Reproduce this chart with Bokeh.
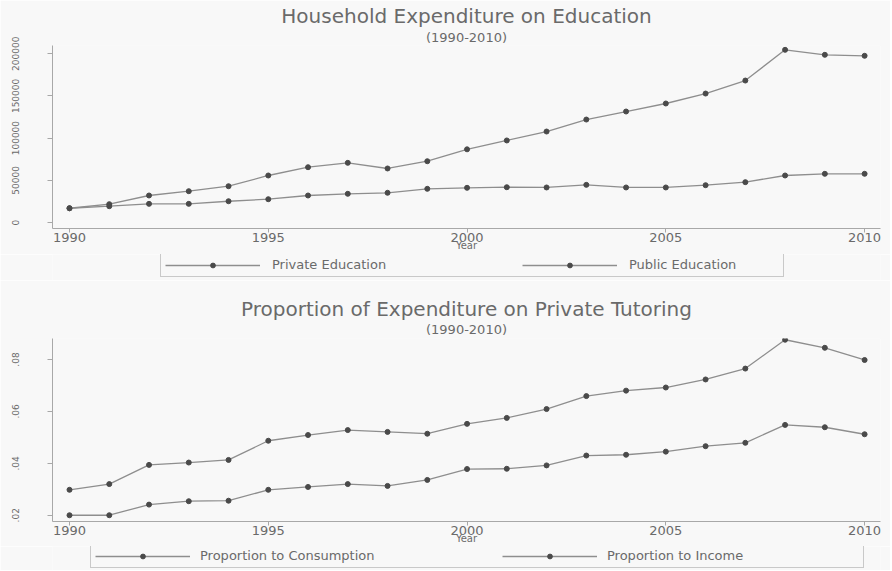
from bokeh.plotting import figure
from bokeh.layouts import column
from bokeh.models import Range1d, FixedTicker, Title, Legend, LegendItem
from bokeh.embed import file_html
from bokeh.resources import INLINE

years = list(range(1990, 2011))
private_edu = [16900, 21700, 32000, 37100, 43000, 55700, 65500, 70700, 64000, 72600,
               86700, 97200, 107800, 122000, 131500, 141000, 152800, 168200, 204600,
               198700, 197500]
public_edu = [16900, 19300, 22100, 22100, 25200, 27600, 32000, 34000, 35200, 39900,
              41100, 41800, 41500, 44600, 41500, 41500, 44200, 47800, 55700, 57700, 57700]
prop_consumption = [0.0298, 0.0320, 0.0394, 0.0403, 0.0413, 0.0487, 0.0509, 0.0528, 0.0521,
                    0.0514, 0.0552, 0.0575, 0.0609, 0.0659, 0.0680, 0.0692, 0.0723, 0.0765,
                    0.0876, 0.0845, 0.0798]
prop_income = [0.0200, 0.0200, 0.0241, 0.0254, 0.0256, 0.0298, 0.0309, 0.0320, 0.0313,
               0.0336, 0.0378, 0.0379, 0.0392, 0.0430, 0.0433, 0.0445, 0.0466, 0.0479,
               0.0548, 0.0539, 0.0512]

x_ticks = [1990, 1995, 2000, 2005, 2010]
y_ticks_top = [0, 50000, 100000, 150000, 200000]
y_labels_top = ["0", "50000", "100000", "150000", "200000"]
y_ticks_bottom = [0.02, 0.04, 0.06, 0.08]
y_labels_bottom = [".02", ".04", ".06", ".08"]

BG = "#f8f8f8"
TXT = "#6a6a6a"
LINE = "#8e8e8e"
MARK = "#4a4a4a"
AX = "#a8a8a8"
FONT = "DejaVu Sans"
W = 890


def make_fig(height, top, bottom, yr, main, sub, s1, s2, yticks, ylabels,
             toff, soff, tstand, sstand):
    p = figure(width=W, height=height, output_backend="svg", toolbar_location=None,
               x_range=Range1d(1989.572, 2010.40), y_range=Range1d(*yr),
               min_border_left=52, min_border_right=10, min_border_top=top,
               min_border_bottom=bottom, title=main,
               background_fill_color=BG, border_fill_color=BG, outline_line_color=None)
    p.title.align = "center"
    p.title.text_font = FONT
    p.title.text_font_size = "20px"
    p.title.text_font_style = "normal"
    p.title.text_color = TXT
    p.title.offset = toff
    p.title.standoff = tstand
    t = Title(text=sub, align="center", text_font=FONT, text_font_size="13px",
              text_font_style="normal", text_color=TXT, offset=soff, standoff=sstand)
    p.add_layout(t, "above")
    p.grid.visible = False

    p.line(years, s1, line_color=LINE, line_width=1.3)
    p.scatter(years, s1, size=5, fill_color=MARK, line_color=MARK)
    p.line(years, s2, line_color=LINE, line_width=1.3)
    p.scatter(years, s2, size=5, fill_color=MARK, line_color=MARK)

    xa = p.xaxis[0]
    xa.ticker = FixedTicker(ticks=x_ticks)
    xa.minor_tick_line_color = None
    xa.axis_line_color = AX
    xa.major_tick_line_color = AX
    xa.major_tick_out = 4
    xa.major_tick_in = 0
    xa.major_label_text_font = FONT
    xa.major_label_text_font_size = "13px"
    xa.major_label_text_color = TXT
    xa.major_label_standoff = 0
    xa.axis_label = "Year"
    xa.axis_label_text_font = FONT
    xa.axis_label_text_font_size = "10px"
    xa.axis_label_text_font_style = "normal"
    xa.axis_label_text_color = TXT
    xa.axis_label_standoff = -5

    ya = p.yaxis[0]
    ya.ticker = FixedTicker(ticks=yticks)
    ya.major_label_overrides = dict(zip(yticks, ylabels))
    ya.minor_tick_line_color = None
    ya.axis_line_color = AX
    ya.major_tick_line_color = AX
    ya.major_tick_out = 5
    ya.major_tick_in = 0
    ya.major_label_orientation = "vertical"
    ya.major_label_text_font = FONT
    ya.major_label_text_font_size = "9px"
    ya.major_label_text_color = TXT
    ya.major_label_standoff = 28
    return p


def make_legend(height, n1, n2, x0, y0, gw, ls, lw, sp):
    q = figure(width=W, height=height, output_backend="svg", toolbar_location=None,
               x_range=Range1d(0, 1), y_range=Range1d(0, 1),
               x_axis_type=None, y_axis_type=None, min_border_left=52,
               min_border_right=10, min_border_top=0, min_border_bottom=0,
               background_fill_color=BG, border_fill_color=BG, outline_line_color=None)
    q.grid.visible = False
    r1 = q.line([-5, -4], [-5, -4], line_color=LINE, line_width=1.3)
    m1 = q.scatter([-5], [-5], size=5, fill_color=MARK, line_color=MARK)
    r2 = q.line([-5, -4], [-5, -4], line_color=LINE, line_width=1.3)
    m2 = q.scatter([-5], [-5], size=5, fill_color=MARK, line_color=MARK)
    legend = Legend(items=[LegendItem(label=n1, renderers=[r1, m1]),
                           LegendItem(label=n2, renderers=[r2, m2])],
                    orientation="horizontal", location=(x0, y0),
                    glyph_width=gw, glyph_height=12, label_standoff=ls,
                    label_width=lw, spacing=sp, padding=4, margin=0,
                    label_text_font=FONT, label_text_font_size="13px",
                    label_text_color=TXT, label_height=12,
                    border_line_color="#9a9a9a", border_line_width=1,
                    background_fill_color=BG, background_fill_alpha=1.0)
    q.add_layout(legend, "center")
    return q


p1 = make_fig(254, 45, 26, (-7109, 209716),
              "Household Expenditure on Education", "(1990-2010)",
              private_edu, public_edu, y_ticks_top, y_labels_top, -16, 19, -3, 2)
l1 = make_legend(26, "Private Education", "Public Education", 108, 3, 95, 12, 150, 100)
p2 = make_fig(266, 58, 24, (0.01759, 0.08808),
              "Proportion of Expenditure on Private Tutoring", "(1990-2010)",
              prop_consumption, prop_income, y_ticks_bottom, y_labels_bottom,
              -1, 19, -6, 4)
l2 = make_legend(24, "Proportion to Consumption", "Proportion to Income", 38, 2, 95, 10, 252, 50)

layout = column(p1, l1, p2, l2, spacing=0)
open("out.html", "w").write(file_html(layout, INLINE))
